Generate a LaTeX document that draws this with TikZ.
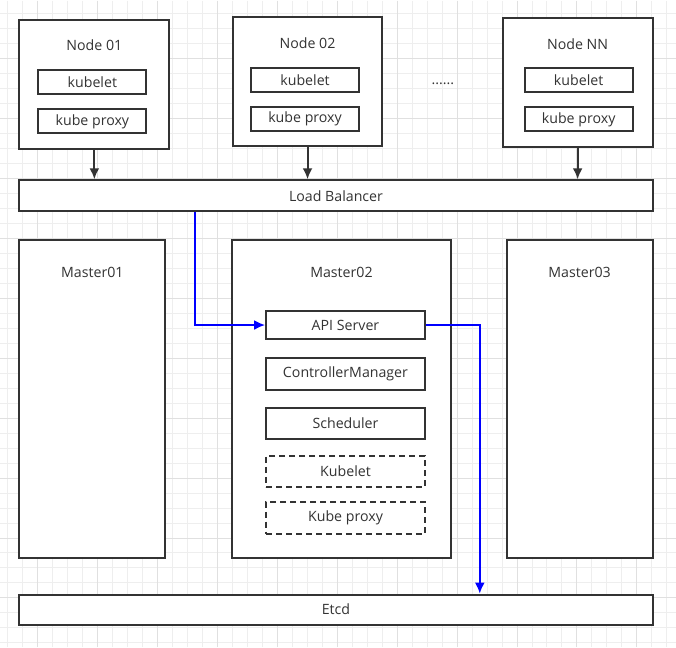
\documentclass[tikz,border=0pt]{standalone}
\usepackage{fontspec}
\setmainfont{Open Sans}
\usepackage{xcolor}
\usepackage{tikz}
\usetikzlibrary{arrows.meta,positioning}
\definecolor{BoxLine}{HTML}{333333}
\definecolor{GridMinor}{HTML}{EEEEEE}
\definecolor{GridMajor}{HTML}{E0E0E0}
\definecolor{FlowBlue}{HTML}{0000FF}

\begin{document}
\begin{tikzpicture}[x=1pt,y=-1pt,>={Latex[length=11pt,width=10pt]},
 font=\fontsize{14.2}{17}\selectfont,text=BoxLine,
 box/.style={draw=BoxLine,line width=2pt,fill=white,inner sep=0pt},
 hostbox/.style={box,minimum width=150pt,minimum height=129pt},
 part/.style={box,minimum width=108pt,minimum height=24pt},
 masterbox/.style={box,minimum width=146pt,minimum height=318pt},
 svc/.style={box,minimum width=159pt,minimum height=30pt},
 optsvc/.style={svc,dash pattern=on 6pt off 4pt},
 bar/.style={box,minimum width=634pt,minimum height=31pt},
 link/.style={->,draw=BoxLine,line width=2pt},
 flow/.style={->,draw=FlowBlue,line width=2pt}]
% background grid
\fill[white] (0,0) rectangle (676,647);
\foreach \gx in {7.3,22.3,...,676} \draw[GridMinor,line width=1pt] (\gx,0) -- (\gx,647);
\foreach \gy in {13.3,28.3,...,647} \draw[GridMinor,line width=1pt] (0,\gy) -- (676,\gy);
\foreach \gx in {37.3,97.3,...,676} \draw[GridMajor,line width=1pt] (\gx,0) -- (\gx,647);
\foreach \gy in {58.3,118.3,...,647} \draw[GridMajor,line width=1pt] (0,\gy) -- (676,\gy);
\useasboundingbox (0,0) rectangle (676,647);

% worker nodes
\node[hostbox] (n1) at (94,84.5) {};
\node (n1t) at (94,45) {Node 01};
\node[part] (n1k) at (92,82) {kubelet};
\node[part] (n1p) at (92,121) {kube proxy};

\node[hostbox] (n2) at (307.5,81.5) {};
\node (n2t) at (307.5,43) {Node 02};
\node[part] (n2k) at (305,79.5) {kubelet};
\node[part] (n2p) at (305,118.5) {kube proxy};

\node (dots) at (443,83) {......};

\node[hostbox] (nn) at (578,82.5) {};
\node (nnt) at (578,44) {Node NN};
\node[part] (nnk) at (579,80) {kubelet};
\node[part] (nnp) at (579,119) {kube proxy};

% load balancer
\node[bar] (lb) at (336,195.5) {Load Balancer};
\draw[link] (n1) -- (n1 |- lb.north);
\draw[link] (n2) -- (n2 |- lb.north);
\draw[link] (nn) -- (nn |- lb.north);

% masters
\node[masterbox] (m1) at (92,399) {};
\node (m1t) at (92,272) {Master01};
\node[masterbox,minimum width=219pt] (m2) at (341.5,399) {};
\node (m2t) at (341.5,272) {Master02};
\node[masterbox] (m3) at (580,399) {};
\node (m3t) at (580,272) {Master03};

\node[svc,minimum height=28pt] (api) at (345.5,325) {API Server};
\node[svc,minimum height=32pt] (cm) at (345.5,374) {ControllerManager};
\node[svc,minimum height=31pt] (sch) at (345.5,423.5) {Scheduler};
\node[optsvc,minimum height=31pt] (kl) at (345.5,471.5) {Kubelet};
\node[optsvc,minimum height=32pt] (kp) at (345.5,518) {Kube proxy};

% etcd
\node[bar,minimum height=30pt] (etcd) at (336,610) {Etcd};

% request path
\coordinate (tap) at (195,0);
\coordinate (drop) at (480,0);
\draw[flow] (lb.south -| tap) |- (api.west);
\draw[flow] (api.east) -| (etcd.north -| drop);
\end{tikzpicture}
\end{document}
